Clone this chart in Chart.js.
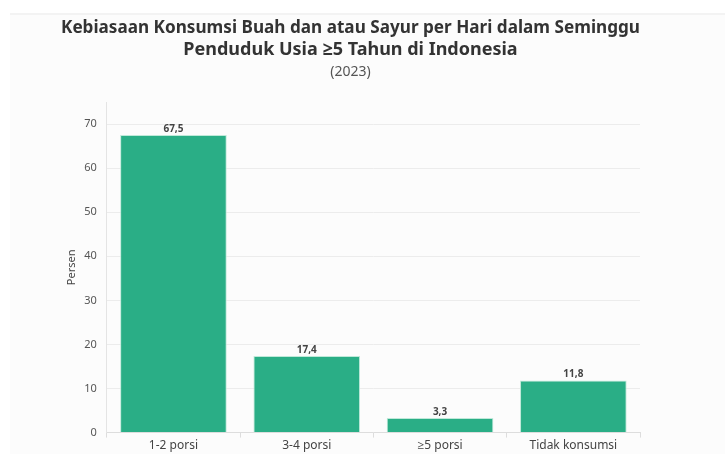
<!DOCTYPE html>
<html lang="id">
<head>
    <meta charset="UTF-8">
    <title>Kebiasaan Konsumsi Buah dan atau Sayur</title>
    <script src="https://cdn.jsdelivr.net/npm/chart.js"></script>
    <style>
        html, body { margin: 0; padding: 0; background: #fff; }
        #wrap { width: 725px; height: 454px; }
    </style>
</head>
<body>
    <div id="wrap"><canvas id="chart"></canvas></div>

    <script>
        // data
        const categories = ['1-2 porsi', '3-4 porsi', '\u22655 porsi', 'Tidak konsumsi'];
        const persen = [67.5, 17.4, 3.3, 11.8];
        const yTicks = [0, 10, 20, 30, 40, 50, 60, 70];

        const fontFam = '"Noto Sans", "Open Sans", sans-serif';

        // faint card behind the chart, as in the screenshot
        const panel = {
            id: 'panel',
            beforeDraw(chart) {
                const ctx = chart.ctx;
                ctx.save();
                ctx.fillStyle = '#fcfcfc';
                ctx.fillRect(10, 13, chart.width - 10, chart.height - 13);
                ctx.fillStyle = '#f3f3f3';
                ctx.fillRect(10, 13, chart.width - 10, 2);
                ctx.restore();
            }
        };

        // value labels above the bars, comma decimal
        const barLabels = {
            id: 'barLabels',
            afterDatasetsDraw(chart) {
                const ctx = chart.ctx;
                const meta = chart.getDatasetMeta(0);
                ctx.save();
                ctx.font = 'bold 10px ' + fontFam;
                ctx.fillStyle = '#444';
                ctx.textAlign = 'center';
                ctx.textBaseline = 'bottom';
                meta.data.forEach((bar, i) => {
                    ctx.fillText(persen[i].toFixed(1).replace('.', ','), bar.x, bar.y - 1);
                });
                ctx.restore();
            }
        };

        new Chart(document.getElementById('chart'), {
            type: 'bar',
            data: {
                labels: categories,
                datasets: [{
                    data: persen,
                    backgroundColor: '#2aae86',
                    borderColor: '#bfe9d9',
                    borderWidth: 1,
                    categoryPercentage: 1,
                    barPercentage: 0.8
                }]
            },
            options: {
                responsive: true,
                maintainAspectRatio: false,
                animation: false,
                layout: { padding: { left: 61, right: 85, top: 0, bottom: 0 } },
                plugins: {
                    legend: { display: false },
                    tooltip: { enabled: false },
                    title: {
                        display: true,
                        text: ['Kebiasaan Konsumsi Buah dan atau Sayur per Hari dalam Seminggu',
                               'Penduduk Usia \u22655 Tahun di Indonesia'],
                        color: '#333',
                        font: { family: fontFam, size: 18, weight: 'bold' },
                        padding: { top: 17, bottom: 0 },
                        lineHeight: 1.33
                    },
                    subtitle: {
                        display: true,
                        text: '(2023)',
                        color: '#555',
                        font: { family: fontFam, size: 14 },
                        padding: { top: 3, bottom: 22 }
                    }
                },
                scales: {
                    x: {
                        grid: { display: true, drawOnChartArea: false, tickLength: 5, tickColor: '#ddd' },
                        border: { color: '#ddd' },
                        ticks: { color: '#444', font: { family: fontFam, size: 12 }, padding: 1 }
                    },
                    y: {
                        min: 0,
                        max: 75,
                        afterBuildTicks: (axis) => { axis.ticks = yTicks.map(v => ({ value: v })); },
                        grid: { color: '#ececec', tickLength: 8, tickColor: 'rgba(0,0,0,0)' },
                        border: { color: '#e4e4e4' },
                        ticks: { color: '#555', font: { family: fontFam, size: 11 }, padding: 2 },
                        title: {
                            display: true,
                            text: 'Persen',
                            color: '#444',
                            font: { family: fontFam, size: 11 },
                            padding: 4
                        }
                    }
                }
            },
            plugins: [panel, barLabels]
        });
    </script>
</body>
</html>
